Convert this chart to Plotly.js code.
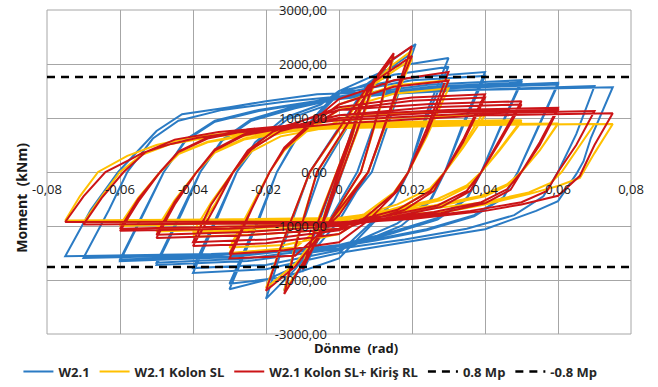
<!DOCTYPE html>
<html>
<head>
<meta charset="utf-8">
<script src="https://cdn.plot.ly/plotly-3.0.1.min.js"></script>
<style>
  html, body { margin: 0; padding: 0; background: #ffffff; }
  #chart { width: 658px; height: 387px; }
</style>
</head>
<body>
<div id="chart"></div>
<script>
// Moment–rotation hysteresis of the W2.1 connection variants.
// Each line of the arrays below is one cycle (unloading to the negative peak, then reloading).

// W2.1
const w21Rot = [
  0, 0.005, 0.0035, -0.0035, -0.005, -0.0035, 0.006, 0.01, 0.007, -0.006, -0.01, -0.007, 0.008, 0.015, 0.012, 0.005, -0.01, -0.015, -0.012, -0.005, 0.009, 0.014, 0.021, 0.017, 0.009, -0.012, -0.02, -0.016, -0.008, 0.008, 0.02,
  0.016, 0.008, 0, -0.01, -0.02, -0.03, -0.022, -0.017, -0.012, -0.005, 0, 0.015, 0.03,
  0.024, 0.019, 0.015, 0.007, 0, -0.015, -0.03, -0.022, -0.017, -0.012, -0.005, 0, 0.015, 0.03,
  0.024, 0.019, 0.015, 0.007, 0, -0.02, -0.04, -0.033, -0.028, -0.023, -0.015, -0.005, 0, 0.02, 0.04,
  0.034, 0.029, 0.025, 0.017, 0.008, 0, -0.02, -0.04, -0.033, -0.028, -0.022, -0.014, -0.004, 0, 0.02, 0.04,
  0.034, 0.029, 0.025, 0.016, 0.006, 0, -0.025, -0.05, -0.043, -0.038, -0.032, -0.024, -0.013, 0, 0.025, 0.05,
  0.044, 0.039, 0.035, 0.027, 0.014, 0, -0.025, -0.05, -0.043, -0.038, -0.032, -0.024, -0.012, 0, 0.025, 0.05,
  0.044, 0.039, 0.035, 0.027, 0.014, 0, -0.03, -0.06, -0.053, -0.048, -0.042, -0.034, -0.022, -0.008, 0, 0.03, 0.06,
  0.054, 0.049, 0.045, 0.037, 0.024, 0.01, 0, -0.03, -0.06, -0.053, -0.048, -0.042, -0.034, -0.022, -0.008, 0, 0.03, 0.06,
  0.054, 0.049, 0.045, 0.037, 0.024, 0.01, 0, -0.035, -0.07, -0.063, -0.058, -0.051, -0.044, -0.032, -0.015, 0, 0.035, 0.07,
  0.065, 0.06, 0.056, 0.048, 0.035, 0.018, 0, -0.035, -0.075, -0.068, -0.0605, -0.05, -0.043, -0.03, -0.02, -0.006, 0.02, 0.075,
  0.069, 0.067, 0.065, 0.06, 0.054, 0.04, 0.02, 0
];
const w21Mom = [
  0, 1100, 720, -760, -1150, -750, 1250, 1750, 1150, -1300, -1850, -1200, 1550, 2150, 1350, 0, -1750, -2200, -1350, 0, 1600, 2050, 2370, 1600, 0, -1800, -2350, -1500, 0, 1650, 2200,
  1500, 0, -900, -1700, -2000, -2170, -900, 0, 600, 1150, 1500, 1950, 2110,
  1100, 0, -550, -1100, -1600, -1950, -2070, -850, 0, 580, 1100, 1450, 1800, 1950,
  1000, 0, -550, -1050, -1500, -1800, -1870, -800, 0, 550, 1000, 1250, 1500, 1750, 1850,
  900, 0, -550, -1000, -1250, -1450, -1720, -1780, -750, 0, 560, 980, 1220, 1450, 1700, 1780,
  850, 0, -520, -950, -1250, -1420, -1650, -1720, -750, 0, 600, 980, 1200, 1400, 1620, 1700,
  800, 0, -500, -880, -1150, -1380, -1600, -1680, -700, 0, 580, 950, 1180, 1360, 1580, 1660,
  780, 0, -480, -850, -1120, -1350, -1580, -1650, -700, 0, 600, 950, 1150, 1300, 1380, 1580, 1650,
  750, 0, -480, -820, -1080, -1270, -1380, -1560, -1620, -680, 0, 580, 930, 1130, 1280, 1350, 1550, 1620,
  730, 0, -470, -800, -1060, -1250, -1380, -1540, -1590, -700, 0, 620, 950, 1150, 1300, 1400, 1520, 1590,
  700, 0, -450, -800, -1050, -1250, -1420, -1520, -1560, -700, 0, 760, 1070, 1200, 1310, 1440, 1500, 1570,
  630, 200, -40, -540, -720, -1060, -1280, -1500
];

// W2.1 Kolon SL
const kolonRot = [
  0, 0.005, 0.0035, -0.0035, -0.005, -0.0035, 0.006, 0.01, 0.007, -0.006, -0.01, -0.007, 0.008, 0.015, 0.012, 0.006, -0.01, -0.015, -0.012, -0.006, 0.01, 0.014, 0.02, 0.016, 0.008, -0.012, -0.02, -0.016, -0.008, 0.008, 0.02,
  0.016, 0.008, 0, -0.012, -0.03, -0.024, -0.019, -0.015, -0.008, 0, 0.015, 0.03,
  0.024, 0.019, 0.016, 0.008, 0, -0.015, -0.03, -0.024, -0.019, -0.015, -0.008, 0, 0.015, 0.03,
  0.024, 0.019, 0.015, 0.007, 0, -0.02, -0.04, -0.034, -0.029, -0.025, -0.018, -0.01, 0, 0.02, 0.04,
  0.034, 0.029, 0.026, 0.018, 0.008, 0, -0.02, -0.04, -0.035, -0.029, -0.024, -0.016, -0.005, 0, 0.02, 0.04,
  0.034, 0.029, 0.025, 0.016, 0.006, 0, -0.025, -0.05, -0.045, -0.039, -0.034, -0.026, -0.015, 0, 0.025, 0.05,
  0.044, 0.039, 0.036, 0.028, 0.015, 0, -0.025, -0.05, -0.045, -0.039, -0.034, -0.026, -0.014, 0, 0.025, 0.05,
  0.044, 0.039, 0.035, 0.027, 0.014, 0, -0.03, -0.06, -0.055, -0.049, -0.044, -0.036, -0.025, -0.01, 0, 0.03, 0.06,
  0.055, 0.05, 0.047, 0.04, 0.028, 0.012, 0, -0.03, -0.06, -0.055, -0.049, -0.044, -0.036, -0.024, -0.01, 0, 0.03, 0.06,
  0.055, 0.05, 0.046, 0.039, 0.026, 0.01, 0, -0.035, -0.07, -0.065, -0.06, -0.054, -0.046, -0.034, -0.015, 0, 0.035, 0.07,
  0.065, 0.061, 0.058, 0.052, 0.04, 0.02, 0, -0.035, -0.075, -0.071, -0.066, -0.058, -0.05, -0.04, -0.03, -0.015, 0, 0.04, 0.075,
  0.07, 0.066, 0.06, 0.052, 0.04, 0.031, 0.02, 0
];
const kolonMom = [
  0, 950, 620, -680, -1000, -680, 1200, 1700, 1100, -1200, -1750, -1100, 1500, 2150, 1350, 0, -1700, -2200, -1350, 0, 1650, 1950, 2250, 1500, 0, -1700, -2150, -1400, 0, 1550, 2100,
  1450, 0, -750, -1400, -1500, -650, 0, 420, 850, 1250, 1600, 1700,
  700, 0, -330, -800, -1150, -1350, -1400, -620, 0, 400, 800, 1150, 1450, 1550,
  650, 0, -380, -780, -1050, -1150, -1200, -600, 0, 380, 680, 820, 1000, 1100, 1150,
  500, 0, -300, -620, -820, -980, -1080, -1120, -560, 0, 380, 660, 800, 950, 1020, 1050,
  450, 0, -300, -600, -800, -950, -1050, -1100, -550, 0, 380, 620, 760, 900, 940, 960,
  420, 0, -250, -520, -720, -900, -1000, -1050, -520, 0, 360, 600, 740, 860, 910, 930,
  400, 0, -250, -500, -700, -870, -950, -1000, -500, 0, 340, 560, 700, 780, 840, 880, 900,
  400, 0, -220, -450, -620, -780, -860, -930, -980, -480, 0, 330, 550, 690, 770, 830, 870, 890,
  400, 0, -230, -440, -620, -770, -850, -900, -930, -450, 0, 320, 520, 660, 760, 820, 870, 890,
  400, 0, -200, -380, -560, -720, -850, -880, -900, -450, 0, 300, 500, 650, 720, 770, 810, 870, 890,
  350, -110, -260, -410, -600, -720, -780, -870
];

// W2.1 Kolon SL+ Kiriş RL
const kirisRot = [
  0, 0.005, 0.0035, -0.0035, -0.005, -0.0035, 0.006, 0.01, 0.007, -0.006, -0.01, -0.007, 0.008, 0.015, 0.012, 0.006, -0.01, -0.015, -0.012, -0.006, 0.01, 0.014, 0.02, 0.016, 0.008, -0.012, -0.02, -0.016, -0.008, 0.008, 0.02,
  0.016, 0.008, 0, -0.012, -0.03, -0.024, -0.019, -0.015, -0.008, 0, 0.015, 0.03,
  0.024, 0.019, 0.016, 0.008, 0, -0.015, -0.03, -0.024, -0.019, -0.015, -0.008, 0, 0.015, 0.03,
  0.024, 0.019, 0.015, 0.007, 0, -0.02, -0.04, -0.034, -0.029, -0.025, -0.018, -0.01, 0, 0.02, 0.04,
  0.034, 0.029, 0.026, 0.018, 0.008, 0, -0.02, -0.04, -0.035, -0.029, -0.024, -0.016, -0.005, 0, 0.02, 0.04,
  0.034, 0.029, 0.025, 0.016, 0.006, 0, -0.025, -0.05, -0.045, -0.039, -0.034, -0.026, -0.015, 0, 0.025, 0.05,
  0.044, 0.039, 0.036, 0.028, 0.015, 0, -0.025, -0.05, -0.045, -0.039, -0.034, -0.026, -0.014, 0, 0.025, 0.05,
  0.044, 0.039, 0.035, 0.027, 0.014, 0, -0.03, -0.06, -0.055, -0.049, -0.044, -0.036, -0.025, -0.01, 0, 0.03, 0.06,
  0.055, 0.05, 0.047, 0.04, 0.028, 0.012, 0, -0.03, -0.06, -0.055, -0.049, -0.044, -0.036, -0.024, -0.01, 0, 0.03, 0.06,
  0.055, 0.05, 0.046, 0.039, 0.026, 0.01, 0, -0.035, -0.07, -0.065, -0.059, -0.053, -0.045, -0.033, -0.015, 0, 0.035, 0.07,
  0.065, 0.06, 0.057, 0.05, 0.036, 0.02, 0, -0.035, -0.075, -0.07, -0.064, -0.057, -0.054, -0.046, -0.039, -0.03, -0.015, 0, 0.04, 0.075,
  0.07, 0.066, 0.06, 0.05, 0.04, 0.02, 0
];
const kirisMom = [
  0, 1000, 650, -700, -1050, -700, 1250, 1750, 1150, -1250, -1800, -1150, 1550, 2200, 1400, 0, -1700, -2260, -1400, 0, 1700, 2050, 2330, 1550, 0, -1750, -2200, -1400, 0, 1600, 2150,
  1500, 0, -800, -1550, -1600, -700, 0, 450, 900, 1350, 1700, 1850,
  800, 0, -350, -900, -1300, -1450, -1520, -700, 0, 420, 850, 1250, 1580, 1690,
  700, 0, -400, -850, -1150, -1320, -1370, -650, 0, 400, 750, 950, 1200, 1380, 1440,
  600, 0, -350, -700, -900, -1080, -1250, -1300, -600, 0, 420, 760, 950, 1150, 1320, 1380,
  550, 0, -350, -700, -880, -1050, -1170, -1220, -600, 0, 420, 700, 850, 1150, 1260, 1310,
  600, 0, -350, -650, -830, -1000, -1110, -1160, -550, 0, 400, 680, 830, 1050, 1200, 1250,
  550, 0, -350, -620, -800, -950, -1050, -1090, -550, 0, 380, 640, 790, 880, 1050, 1150, 1190,
  550, 0, -330, -580, -760, -900, -980, -1010, -1050, -500, 0, 370, 620, 780, 860, 1000, 1110, 1150,
  500, 0, -320, -560, -740, -880, -950, -960, -970, -480, 0, 370, 600, 740, 850, 960, 1080, 1130,
  500, 0, -350, -560, -720, -850, -930, -920, -926, -450, 0, 240, 350, 520, 630, 720, 800, 900, 1050, 1090,
  500, -70, -440, -600, -720, -870, -950
];

// ±0.8 Mp reference levels across the full rotation range
const mpRot = [-0.08, 0.08];
const mpPos = [1760, 1760];
const mpNeg = [-1760, -1760];

// axis ticks
const xTickVals = [-0.08, -0.06, -0.04, -0.02, 0, 0.02, 0.04, 0.06, 0.08];
const xTickText = ['-0,08', '-0,06', '-0,04', '-0,02', '0', '0,02', '0,04', '0,06', '0,08'];
const yTickVals = [-3000, -2000, -1000, 0, 1000, 2000, 3000];
const yTickText = ['-3000,00', '-2000,00', '-1000,00', '0,00', '1000,00', '2000,00', '3000,00'];

const FONT = '"Open Sans", "Liberation Sans", sans-serif';
const GRID = '#A6A6A6';

const lineTrace = (x, y, name, color) => ({
  type: 'scatter', mode: 'lines', x: x, y: y, name: name,
  line: { color: color, width: 2 }, hoverinfo: 'skip'
});

const traces = [
  lineTrace(w21Rot, w21Mom, 'W2.1', '#2B7BC4'),
  lineTrace(kolonRot, kolonMom, 'W2.1 Kolon SL', '#FFC000'),
  lineTrace(kirisRot, kirisMom, 'W2.1 Kolon SL+ Kiriş RL', '#CC1417'),
  { type: 'scatter', mode: 'lines', x: mpRot, y: mpPos, name: '0.8 Mp',
    line: { color: '#000000', width: 2.5, dash: '8px,6px' }, hoverinfo: 'skip' },
  { type: 'scatter', mode: 'lines', x: mpRot, y: mpNeg, name: '-0.8 Mp',
    line: { color: '#000000', width: 2.5, dash: '8px,6px' }, hoverinfo: 'skip' }
];

const layout = {
  width: 658, height: 387,
  margin: { l: 47, r: 27, t: 10, b: 53 },
  paper_bgcolor: '#ffffff', plot_bgcolor: '#ffffff',
  font: { family: FONT, size: 13, color: '#1a1a1a' },
  showlegend: true,
  xaxis: {
    range: [-0.08, 0.08], tickmode: 'array', tickvals: xTickVals, ticktext: xTickText,
    anchor: 'free', position: 0.5,
    showgrid: true, gridcolor: GRID, gridwidth: 1,
    zeroline: true, zerolinecolor: GRID, zerolinewidth: 1,
    showline: false, ticks: '', ticklabelstandoff: 8,
    tickfont: { family: FONT, size: 13, color: '#1a1a1a' }
  },
  yaxis: {
    range: [-3000, 3000], tickmode: 'array', tickvals: yTickVals, ticktext: yTickText,
    anchor: 'free', position: 0.5,
    showgrid: true, gridcolor: GRID, gridwidth: 1,
    zeroline: true, zerolinecolor: GRID, zerolinewidth: 1,
    showline: false, ticks: '', ticklabelstandoff: 12,
    tickfont: { family: FONT, size: 13, color: '#1a1a1a' }
  },
  shapes: [
    { type: 'rect', xref: 'paper', yref: 'paper', x0: 0, x1: 1, y0: 0, y1: 1,
      line: { color: GRID, width: 1 }, layer: 'below' }
  ],
  annotations: [
    { text: 'Moment\u00a0\u00a0(kNm)', xref: 'paper', yref: 'paper', x: -0.043, y: 0.42,
      textangle: -90, showarrow: false, xanchor: 'center', yanchor: 'middle',
      font: { family: FONT, size: 14, color: '#1a1a1a', weight: 'bold' } },
    { text: 'Dönme\u00a0\u00a0(rad)', xref: 'paper', yref: 'paper', x: 0.529, y: -0.043,
      showarrow: false, xanchor: 'center', yanchor: 'middle',
      font: { family: FONT, size: 13, color: '#1a1a1a', weight: 'bold' } }
  ],
  legend: {
    orientation: 'h', xref: 'container', yref: 'container',
    x: 0.028, y: 0.04, xanchor: 'left', yanchor: 'middle',
    itemwidth: 30, bgcolor: 'rgba(0,0,0,0)',
    font: { family: FONT, size: 13, color: '#262626', weight: 'bold' }
  }
};

Plotly.newPlot('chart', traces, layout, { staticPlot: true, displayModeBar: false });
</script>
</body>
</html>
